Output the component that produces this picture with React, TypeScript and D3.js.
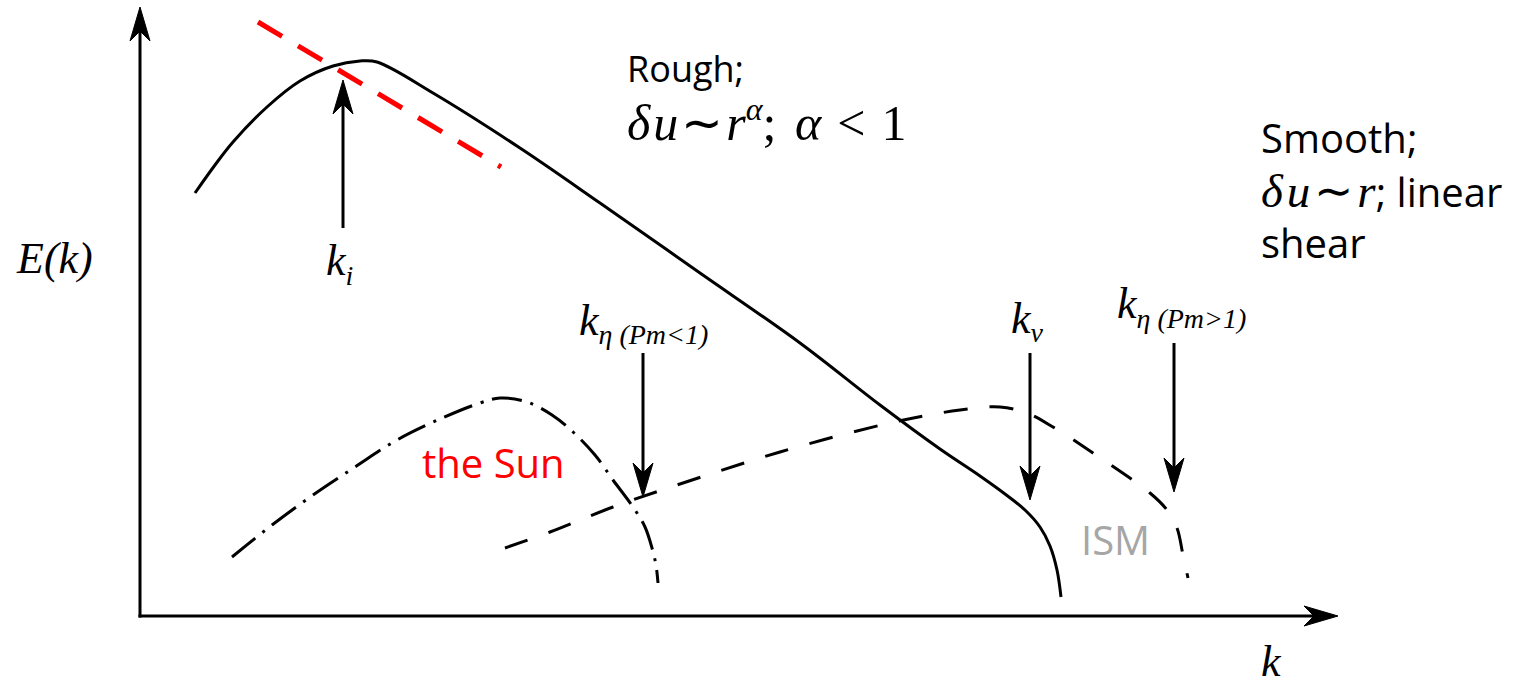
import React from "react";
import * as d3 from "d3";

// Schematic energy spectrum E(k) with dissipation scales (arbitrary units)
const W = 1517;
const H = 685;

// kinetic-energy spectrum (solid)
const kineticSpectrum: [number, number][] = [
  [55, 423], [75, 451], [93, 474], [127, 509], [160, 535], [193, 550],
  [220, 555], [237, 554], [293, 523], [380, 468], [460, 413], [560, 343],
  [660, 273], [740, 211], [800, 167], [840, 140], [865, 122], [885, 106],
  [900, 89], [910, 70], [917, 46], [921, 19],
];

// magnetic spectrum, Pm < 1 (dash-dot)
const sunSpectrum: [number, number][] = [
  [92, 59], [132, 91], [173, 121], [215, 149], [257, 176], [300, 197],
  [340, 213], [360, 218], [387, 214], [412, 201], [433, 184], [455, 161],
  [473, 136], [493, 109], [505, 89], [512, 68], [516, 51], [518, 33],
];

// magnetic spectrum, Pm > 1 (dashed)
const ismSpectrum: [number, number][] = [
  [365, 68], [410, 84], [473, 109], [543, 133], [640, 164], [750, 193],
  [820, 206], [860, 209], [887, 203], [913, 189], [953, 163], [1010, 123],
  [1027, 106], [1037, 88], [1043, 61], [1048, 38],
];

// power-law tangent near the injection scale
const tangentLine: [number, number][] = [[118, 594], [361, 449]];

// scale markers: k position, arrow tail and head heights
const scaleArrows = [
  { name: "ki", k: 203, from: 388, to: 536 },
  { name: "keta1", k: 503, from: 263, to: 119 },
  { name: "knu", k: 890, from: 263, to: 116 },
  { name: "keta2", k: 1034, from: 273, to: 124 },
];

const axisExtent = { k: 1198, E: 609 };

const x = d3.scaleLinear().domain([0, 1200]).range([140, 1340]);
const y = d3.scaleLinear().domain([0, 610]).range([616, 6]);

const curve = d3
  .line<[number, number]>()
  .x((d) => x(d[0]))
  .y((d) => y(d[1]))
  .curve(d3.curveCatmullRom.alpha(0.5));

const straight = d3
  .line<[number, number]>()
  .x((d) => x(d[0]))
  .y((d) => y(d[1]));

// stealth-style arrow: shaft plus notched head
function arrow(x1: number, y1: number, x2: number, y2: number, key: string) {
  const L = 34, Wd = 10, N = 24;
  const len = Math.hypot(x2 - x1, y2 - y1);
  const ux = (x2 - x1) / len, uy = (y2 - y1) / len;
  const nx = -uy, ny = ux;
  const bx = x2 - L * ux, by = y2 - L * uy;
  const mx = x2 - N * ux, my = y2 - N * uy;
  const head = `M${x2},${y2}L${bx + Wd * nx},${by + Wd * ny}L${mx},${my}L${bx - Wd * nx},${by - Wd * ny}Z`;
  return (
    <g key={key}>
      <line x1={x1} y1={y1} x2={mx} y2={my} stroke="#000" strokeWidth={3} />
      <path d={head} fill="#000" stroke="#000" strokeWidth={1} strokeLinejoin="miter" />
    </g>
  );
}

const serif = "'Liberation Serif', 'Times New Roman', serif";
const sans = "'Open Sans', 'Noto Sans', sans-serif";

export default function App() {
  return (
    <svg
      width={W}
      height={H}
      viewBox={`0 0 ${W} ${H}`}
      style={{ position: "absolute", left: 0, top: 0, background: "#fff" }}
    >
      {/* axes */}
      {arrow(x(0), y(0) + 1.5, x(0), y(axisExtent.E), "yaxis")}
      {arrow(x(0) - 1.5, y(0), x(axisExtent.k), y(0), "xaxis")}

      {/* spectra */}
      <path d={curve(kineticSpectrum) ?? ""} fill="none" stroke="#000" strokeWidth={3} />
      <path
        d={curve(sunSpectrum) ?? ""}
        fill="none"
        stroke="#000"
        strokeWidth={3}
        strokeDasharray="30 9 3 9"
      />
      <path
        d={curve(ismSpectrum) ?? ""}
        fill="none"
        stroke="#000"
        strokeWidth={3}
        strokeDasharray="24 22"
      />
      <path
        d={straight(tangentLine) ?? ""}
        fill="none"
        stroke="#ff0000"
        strokeWidth={5}
        strokeDasharray="28 18.6"
      />

      {/* scale arrows */}
      {scaleArrows.map((a) => arrow(x(a.k), y(a.from), x(a.k), y(a.to), a.name))}

      {/* axis labels */}
      <text x={17} y={273} fontFamily={serif} fontStyle="italic" fontSize={44}>
        E(k)
      </text>
      <text x={1261} y={676} fontFamily={serif} fontStyle="italic" fontSize={44}>
        k
      </text>

      {/* scale labels */}
      <text x={326} y={275} fontFamily={serif} fontStyle="italic" fontSize={44}>
        k<tspan fontSize={28} dy={10}>i</tspan>
      </text>
      <text x={579} y={335} fontFamily={serif} fontStyle="italic" fontSize={44}>
        k<tspan fontSize={28} dy={9}>η (Pm&lt;1)</tspan>
      </text>
      <text x={1011} y={333} fontFamily={serif} fontStyle="italic" fontSize={44}>
        k<tspan fontSize={28} dy={9}>ν</tspan>
      </text>
      <text x={1117} y={318} fontFamily={serif} fontStyle="italic" fontSize={44}>
        k<tspan fontSize={28} dy={10}>η (Pm&gt;1)</tspan>
      </text>

      {/* regime annotations */}
      <text x={627} y={82} fontFamily={sans} fontSize={36}>
        Rough;
      </text>
      <text x={627} y={140} fontFamily={serif} fontSize={50}>
        <tspan fontStyle="italic">δ</tspan>
        <tspan fontStyle="italic" dx={3}>u</tspan>
        <tspan dx={3}>∼</tspan>
        <tspan fontStyle="italic" dx={3}>r</tspan>
        <tspan fontStyle="italic" fontSize={32} dy={-20}>α</tspan>
        <tspan dy={20}>; </tspan>
        <tspan fontStyle="italic" dx={6}>α</tspan>
        <tspan dx={16}>&lt;</tspan>
        <tspan dx={16}>1</tspan>
      </text>

      <text x={1261} y={153} fontFamily={sans} fontSize={40}>
        Smooth;
      </text>
      <text x={1261} y={207} fontSize={40}>
        <tspan fontFamily={serif} fontStyle="italic" fontSize={47}>δ</tspan>
        <tspan fontFamily={serif} fontStyle="italic" fontSize={47} dx={4}>u</tspan>
        <tspan fontFamily={serif} fontSize={47} dx={4}>∼</tspan>
        <tspan fontFamily={serif} fontStyle="italic" fontSize={47} dx={4}>r</tspan>
        <tspan fontFamily={sans}>; linear</tspan>
      </text>
      <text x={1261} y={258} fontFamily={sans} fontSize={40}>
        shear
      </text>

      <text x={422} y={478} fontFamily={sans} fontSize={40} fill="#ff0000">
        the Sun
      </text>
      <text x={1081} y={555} fontFamily={sans} fontSize={40} fill="#a6a6a6">
        ISM
      </text>
    </svg>
  );
}
